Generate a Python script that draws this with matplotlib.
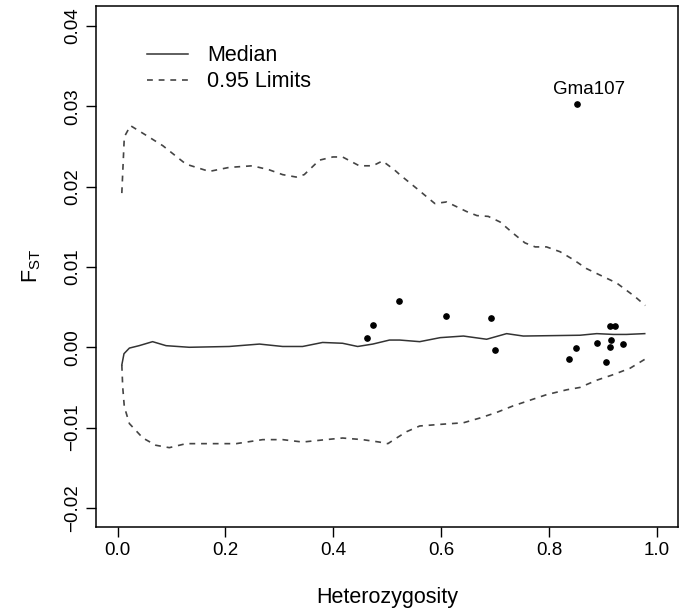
import matplotlib
matplotlib.use("Agg")
from matplotlib import pyplot as plt

# values
upper_x = [0.008, 0.0126, 0.024, 0.053, 0.084, 0.127, 0.170, 0.207, 0.250, 0.281, 0.306,
           0.331, 0.346, 0.374, 0.399, 0.417, 0.448, 0.473, 0.491, 0.513, 0.523, 0.554,
           0.588, 0.610, 0.647, 0.666, 0.687, 0.709, 0.733, 0.755, 0.774, 0.795, 0.820,
           0.845, 0.869, 0.900, 0.925, 0.959, 0.978]
upper_y = [0.0192, 0.0262, 0.0276, 0.0264, 0.0251, 0.0228, 0.0219, 0.0224, 0.0226, 0.0221, 0.0215,
           0.0212, 0.0215, 0.0233, 0.0237, 0.0237, 0.0226, 0.0226, 0.0232, 0.0221, 0.0215, 0.0198,
           0.0179, 0.0181, 0.0169, 0.0164, 0.0163, 0.0156, 0.0142, 0.0130, 0.0125, 0.0125, 0.0119,
           0.0109, 0.0098, 0.0088, 0.0080, 0.0063, 0.0052]

median_x = [0.008, 0.012, 0.022, 0.040, 0.065, 0.090, 0.133, 0.207, 0.263, 0.306, 0.343,
            0.380, 0.417, 0.445, 0.473, 0.504, 0.523, 0.560, 0.598, 0.641, 0.684, 0.721,
            0.752, 0.857, 0.888, 0.919, 0.943, 0.977]
median_y = [-0.0022, -0.0008, -0.0001, 0.0002, 0.0007, 0.0002, 0.0000, 0.0001, 0.0004, 0.0001, 0.0001,
            0.0006, 0.0005, 0.0001, 0.0004, 0.0009, 0.0009, 0.0007, 0.0012, 0.0014, 0.0010, 0.0017,
            0.0014, 0.0015, 0.0017, 0.0016, 0.0016, 0.0017]

lower_x = [0.008, 0.0096, 0.0126, 0.022, 0.047, 0.071, 0.096, 0.127, 0.176, 0.220, 0.269,
           0.306, 0.343, 0.386, 0.417, 0.454, 0.485, 0.501, 0.517, 0.536, 0.560, 0.598,
           0.641, 0.672, 0.703, 0.733, 0.764, 0.795, 0.832, 0.857, 0.888, 0.919, 0.950, 0.977]
lower_y = [-0.0022, -0.0049, -0.0074, -0.0095, -0.0113, -0.0122, -0.0125, -0.0120, -0.0120, -0.0120, -0.0115,
           -0.0115, -0.0118, -0.0115, -0.0113, -0.0115, -0.0118, -0.0120, -0.0113, -0.0105, -0.0098, -0.0096,
           -0.0094, -0.0088, -0.0081, -0.0073, -0.0066, -0.0059, -0.0053, -0.0050, -0.0041, -0.0034, -0.0026, -0.0015]

loci_het = [0.462, 0.473, 0.522, 0.608, 0.693, 0.699, 0.837, 0.849, 0.888, 0.905,
            0.913, 0.921, 0.914, 0.913, 0.936, 0.851]
loci_fst = [0.0012, 0.0028, 0.0058, 0.0039, 0.0036, -0.0004, -0.0015, -0.0001, 0.0005, -0.0018,
            0.0026, 0.0026, 0.0009, 0.0000, 0.0004, 0.0303]
outlier_name = "Gma107"

x_ticks = [0.0, 0.2, 0.4, 0.6, 0.8, 1.0]
y_ticks = [-0.02, -0.01, 0.00, 0.01, 0.02, 0.03, 0.04]

plt.rcParams["font.family"] = ["Liberation Sans", "DejaVu Sans"]

fig = plt.figure(figsize=(6.83, 6.11), dpi=100)
ax = fig.add_axes([0.1406, 0.138, 0.8516, 0.8522])

ax.plot(median_x, median_y, color="#333333", lw=1.1, label="Median")
ax.plot(upper_x, upper_y, color="#444444", lw=1.2, ls=(0, (3.5, 3.5)), label="0.95 Limits")
ax.plot(lower_x, lower_y, color="#444444", lw=1.2, ls=(0, (3.5, 3.5)))
ax.plot(loci_het, loci_fst, "o", color="black", ms=3.8, ls="none")

ax.annotate(outlier_name, (loci_het[-1], loci_fst[-1]), xytext=(9, 4),
            textcoords="offset points", ha="center", va="bottom", fontsize=13.5)

ax.set_xlim(-0.0398, 1.038)
ax.set_ylim(-0.02234, 0.0425)
ax.set_xticks(x_ticks)
ax.set_xticklabels([f"{v:.1f}" for v in x_ticks])
ax.set_yticks(y_ticks)
ax.set_yticklabels([f"{v:.2f}".replace("-", "\u2212") for v in y_ticks],
                   rotation=90, va="center")
ax.tick_params(direction="out", length=7, width=1, labelsize=13.5, pad=4)
for s in ax.spines.values():
    s.set_linewidth(1.1)

ax.set_xlabel("Heterozygosity", fontsize=15.5, labelpad=20)
ax.set_ylabel(r"$\mathregular{F_{ST}}$", fontsize=15.5, labelpad=15)

ax.legend(loc="upper left", bbox_to_anchor=(0.0877, 0.925), frameon=False,
          fontsize=15.5, borderpad=0, borderaxespad=0, handlelength=1.9,
          handletextpad=0.9, labelspacing=0.25)

fig.savefig("out.png", dpi=100)
